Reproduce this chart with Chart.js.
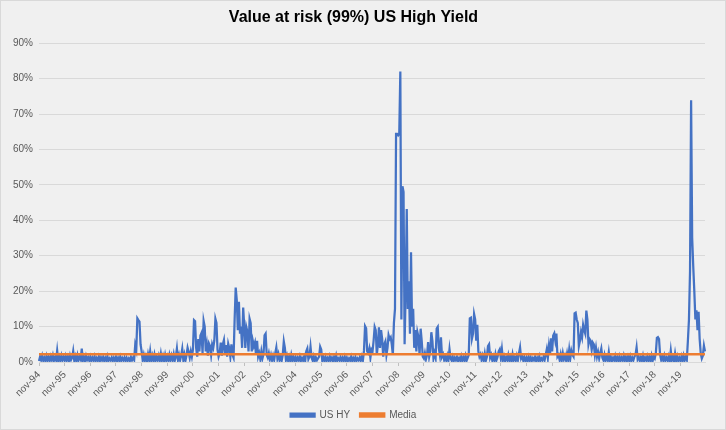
<!DOCTYPE html>
<html>
<head>
<meta charset="utf-8">
<title>Value at risk (99%) US High Yield</title>
<script src="https://cdn.jsdelivr.net/npm/chart.js@4.4.1/dist/chart.umd.min.js"></script>
<style>
  html, body { margin: 0; padding: 0; background: #f0f0f0; }
  canvas { display: block; }
</style>
</head>
<body>
<canvas id="varChart" width="726" height="430"></canvas>
<script>
// VaR 99% quincenal en %, cada fila va de noviembre a octubre (24 quincenas)
const var1995 = [0.3,1.5,0.6,1.8,0.4,1.2,0.3,1.7,0.5,1.4,0.3,1.6,0.6,1.9,0.4,1.3,0.5,3.2,0.4,1.5,0.3,1.8,0.6,1.4];
const var1996 = [0.4,1.7,0.5,1.5,0.3,1.8,0.6,1.2,3.1,0.4,1.6,0.3,1.9,0.5,1.4,0.7,3.8,0.4,1.5,0.3,1.7,0.6,1.3,0.4];
const var1997 = [1.5,0.3,1.2,0.5,1.6,0.3,1.1,0.4,1.5,0.3,1.3,0.5,1.4,0.3,1.2,0.4,1.6,0.3,1.0,0.5,1.3,0.3,1.2,0.4];
const var1998 = [1.4,0.3,1.2,0.4,1.5,0.3,1.1,0.5,1.3,0.3,1.2,0.4,1.0,0.3,1.4,0.5,1.2,0.6,4.8,3.5,12.3,11.8,11.4,5.0];
const var1999 = [3.0,0.5,2.0,0.4,1.6,0.3,2.2,0.6,3.0,0.4,1.8,0.5,2.1,0.3,1.5,0.6,1.8,0.4,2.4,0.5,1.7,0.3,2.0,0.5];
const var2000 = [1.6,0.4,2.0,0.5,1.8,0.6,2.2,0.4,1.5,3.8,0.6,2.0,0.5,1.8,3.7,0.6,2.1,0.4,1.9,4.0,2.8,1.2,3.0,1.5];
const var2001 = [3.5,11.8,11.5,4.0,1.5,6.5,3.0,7.5,8.2,2.5,11.6,10.0,3.0,5.0,1.8,5.2,4.5,2.0,5.0,4.0,6.0,12.2,11.0,3.5];
const var2002 = [1.5,2.5,5.5,1.8,5.0,6.2,2.0,4.8,1.5,5.2,4.0,1.5,5.0,2.0,1.2,12.0,21.0,17.5,9.0,17.0,8.0,10.0,4.0,15.4];
const var2003 = [10.0,4.0,9.8,8.5,3.0,12.2,11.0,3.0,6.0,4.5,5.5,2.0,6.0,1.5,2.5,0.8,3.0,1.0,2.2,7.5,8.0,2.0,1.2,2.5];
const var2004 = [0.8,2.0,0.5,1.8,0.6,2.5,4.1,1.0,2.2,0.5,1.5,0.4,2.0,5.8,4.0,0.6,1.8,0.4,1.5,0.3,2.0,0.5,1.4,0.3];
const var2005 = [1.4,0.3,1.2,0.5,1.6,0.3,1.1,0.4,1.5,0.3,3.0,3.8,0.8,1.5,4.3,1.2,0.4,1.6,0.3,1.3,0.5,1.0,1.5,4.3];
const var2006 = [3.5,0.4,1.3,0.3,1.5,0.4,1.1,0.3,1.6,0.5,1.2,0.3,1.4,0.4,1.8,0.3,1.0,0.5,1.4,0.3,1.2,0.4,1.5,0.3];
const var2007 = [1.2,0.3,1.0,0.4,1.5,0.3,1.1,0.4,1.4,0.3,1.0,0.5,1.3,0.4,1.6,0.5,3.2,10.1,9.5,3.0,2.5,3.8,1.2,3.5];
const var2008 = [3.0,6.0,9.9,9.0,2.0,5.0,9.8,4.0,9.0,6.5,1.5,5.0,5.8,2.0,4.0,7.6,6.5,7.0,5.0,2.0,11.0,15.0,64.4,64.4];
const var2009 = [64.0,64.4,82.0,12.0,49.6,48.0,5.0,20.0,43.2,15.0,22.8,8.0,31.0,10.0,15.0,4.0,9.0,3.0,8.4,7.0,2.0,9.4,6.0,1.5];
const var2010 = [1.0,2.5,0.8,2.0,5.6,1.5,3.0,8.4,6.0,1.0,2.5,1.2,9.4,9.9,4.0,2.0,7.0,1.5,2.2,0.6,1.5,0.4,1.8,0.5];
const var2011 = [3.6,1.0,0.4,1.5,0.3,1.2,0.5,1.4,0.3,1.1,0.4,1.6,0.3,1.3,0.5,1.8,0.4,1.2,2.0,12.3,12.5,6.6,8.0,13.5];
const var2012 = [12.0,6.0,10.5,3.0,1.5,2.2,0.6,1.8,0.5,2.4,0.4,1.5,4.5,5.0,1.2,2.0,0.5,1.6,0.4,2.2,0.6,1.5,3.0,3.6];
const var2013 = [1.2,3.6,0.5,1.6,0.3,1.4,0.6,2.0,0.4,1.5,0.3,2.2,0.5,1.3,0.4,1.8,0.6,2.5,4.1,1.0,1.6,0.4,1.4,0.3];
const var2014 = [1.2,0.3,1.5,0.4,1.3,0.3,1.1,0.5,1.4,0.3,1.2,0.4,1.6,0.3,1.0,0.5,1.5,0.6,2.0,3.6,1.2,4.5,2.0,6.7];
const var2015 = [3.0,7.5,8.1,6.0,8.0,1.5,2.0,0.6,2.2,0.5,2.5,0.8,1.8,0.5,2.4,0.6,3.5,1.0,3.2,2.0,1.5,13.7,13.9,12.0];
const var2016 = [11.0,4.5,6.0,8.4,7.0,10.5,9.0,8.0,14.5,12.0,5.0,6.5,6.0,3.5,5.5,5.0,2.0,4.0,1.5,2.8,1.0,2.5,3.8,1.2];
const var2017 = [0.5,2.0,0.4,1.5,0.6,2.8,0.4,1.4,0.3,1.2,0.5,1.7,0.3,1.3,0.4,1.6,0.3,1.2,0.5,1.8,0.4,1.4,0.3,1.5];
const var2018 = [0.4,1.6,0.3,1.2,0.5,1.5,2.0,4.1,0.8,1.5,0.3,1.3,0.4,1.8,0.3,1.2,0.5,1.6,0.3,1.4,0.4,1.8,0.3,1.5];
const var2019 = [1.0,2.5,6.8,7.0,6.5,2.0,0.6,1.5,0.4,1.8,0.5,1.2,0.4,1.6,0.3,3.2,0.5,1.4,0.3,2.4,0.4,1.6,0.3,1.2];
const var2020 = [0.4,1.6,0.3,1.8,0.5,1.4,0.6,6.0,12.0,25.7,73.9,35.0,27.0,20.0,12.0,14.6,9.0,14.2,6.5,2.5,1.0,1.8,4.6,3.0];

const mediaVaR = 2.2;
const meses = ["nov", "dic", "ene", "feb", "mar", "abr", "may", "jun", "jul", "ago", "sep", "oct"];
const yTicks = [0, 10, 20, 30, 40, 50, 60, 70, 80, 90];

const usHY = [].concat(var1995, var1996, var1997, var1998, var1999, var2000, var2001,
  var2002, var2003, var2004, var2005, var2006, var2007, var2008, var2009, var2010,
  var2011, var2012, var2013, var2014, var2015, var2016, var2017, var2018, var2019, var2020);

// etiquetas de quincena, empezando el 1-nov-94
const labels = usHY.map((v, i) => {
  const m = Math.floor(i / 2);
  const year = 1994 + Math.floor((m + 10) / 12);
  return (i % 2 ? "16-" : "1-") + meses[m % 12] + "-" + String(year).slice(2);
});

const gris = "#595959";

const fondo = {
  id: "fondo",
  beforeDraw(chart) {
    const ctx = chart.ctx;
    ctx.save();
    ctx.fillStyle = "#f0f0f0";
    ctx.fillRect(0, 0, chart.width, chart.height);
    ctx.strokeStyle = "#d9d9d9";
    ctx.lineWidth = 1;
    ctx.strokeRect(0.5, 0.5, chart.width - 1, chart.height - 1);
    ctx.restore();
  }
};

new Chart(document.getElementById("varChart"), {
  type: "line",
  data: {
    labels,
    datasets: [
      {
        label: "US HY",
        data: usHY,
        borderColor: "#4472c4",
        backgroundColor: "#4472c4",
        borderWidth: 2.25,
        pointRadius: 0,
        tension: 0,
        fill: false,
        order: 2
      },
      {
        // la media va encima de la serie
        label: "Media",
        data: labels.map(() => mediaVaR),
        borderColor: "#ed7d31",
        backgroundColor: "#ed7d31",
        borderWidth: 2.5,
        pointRadius: 0,
        fill: false,
        order: 1
      }
    ]
  },
  options: {
    responsive: false,
    animation: false,
    layout: { padding: { left: 2, right: 21, top: 0, bottom: 0 } },
    plugins: {
      title: {
        display: true,
        text: "Value at risk (99%) US High Yield",
        color: "#000",
        font: { family: "Liberation Sans", size: 16, weight: "bold" },
        padding: { top: 8, bottom: 16 }
      },
      legend: {
        position: "bottom",
        labels: {
          color: gris,
          font: { family: "Liberation Sans", size: 10 },
          boxWidth: 24,
          boxHeight: 3,
          padding: 10,
          sort: (a, b) => a.datasetIndex - b.datasetIndex
        }
      },
      tooltip: { enabled: false }
    },
    scales: {
      x: {
        afterFit(scale) { scale.height = 38; },
        grid: {
          drawOnChartArea: false,
          tickLength: 4,
          tickColor: (c) => (c.index % 24 === 0 ? "#bfbfbf" : "transparent")
        },
        border: { color: "#d9d9d9" },
        ticks: {
          autoSkip: false,
          maxRotation: 45,
          minRotation: 45,
          color: gris,
          font: { family: "Liberation Sans", size: 10 },
          callback(value, index) {
            return index % 24 === 0 ? labels[index].slice(2) : "";
          }
        }
      },
      y: {
        min: 0,
        max: 90,
        afterFit(scale) { scale.width = 37; },
        afterBuildTicks(scale) { scale.ticks = yTicks.map(v => ({ value: v })); },
        grid: { color: "#d9d9d9", drawTicks: false },
        border: { display: false },
        ticks: {
          color: gris,
          padding: 6,
          font: { family: "Liberation Sans", size: 10 },
          callback: (v) => v + "%"
        }
      }
    }
  },
  plugins: [fondo]
});
</script>
</body>
</html>
